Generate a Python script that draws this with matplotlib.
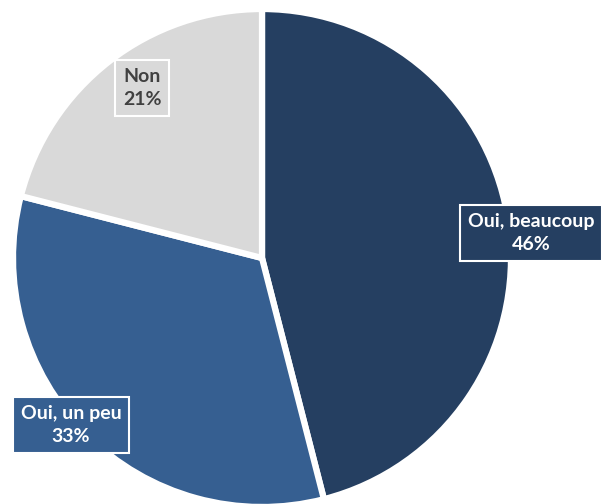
import matplotlib.pyplot as plt

labels = ["Oui, beaucoup", "Oui, un peu", "Non"]
values = [46, 33, 21]
colors = ["#253F61", "#365F91", "#D9D9D9"]
text_colors = ["white", "white", "#404040"]
label_pos = [(531, 271), (71, 79), (142, 416)]

fig = plt.figure(figsize=(6.08, 5.04), dpi=100)
ax = fig.add_axes([0, 0, 1, 1])
ax.pie(values, colors=colors, startangle=90, counterclock=False,
       center=(262, 246), radius=249,
       wedgeprops=dict(edgecolor="white", linewidth=4.5))
ax.set_xlim(0, 608)
ax.set_ylim(0, 504)
ax.set_aspect("equal")
ax.axis("off")

for lab, v, c, tc, (x, y) in zip(labels, values, colors, text_colors, label_pos):
    ax.text(x, y, f"{lab}\n{v}%", ha="center", va="center", color=tc,
            fontsize=14, fontweight="bold", family="Lato",
            linespacing=1.45,
            bbox=dict(boxstyle="square,pad=0.4", fc=c, ec="white", lw=1.5))

fig.savefig("out.png", dpi=100)
